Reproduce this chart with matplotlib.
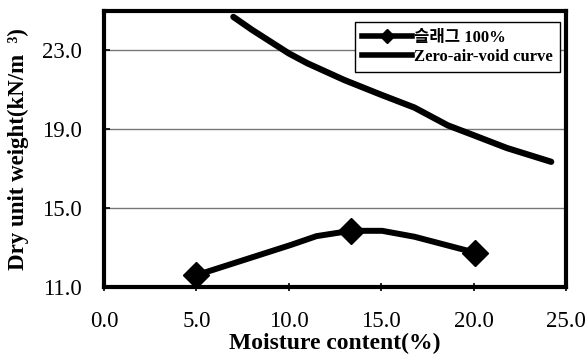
import matplotlib
matplotlib.use("Agg")
import matplotlib.pyplot as plt
from matplotlib.lines import Line2D

# Data
slag_marker_x = [5.0, 13.35, 20.05]
slag_marker_y = [11.6, 13.85, 12.75]
slag_line_x = [5.0, 10.1, 11.5, 13.35, 15.05, 16.8, 20.05]
slag_line_y = [11.6, 13.13, 13.58, 13.85, 13.85, 13.55, 12.75]
zav_x = [7.0, 8.0, 9.0, 10.0, 11.0, 13.0, 15.0, 16.8, 18.6, 20.0, 21.8, 24.2]
zav_y = [24.7, 24.05, 23.45, 22.85, 22.35, 21.5, 20.75, 20.1, 19.2, 18.7, 18.05, 17.35]
x_ticks = [0.0, 5.0, 10.0, 15.0, 20.0, 25.0]
y_ticks = [11.0, 15.0, 19.0, 23.0]
legend_labels = ["슬래그 100%", "Zero-air-void curve"]
x_title = "Moisture content(%)"
y_title = "Dry unit weight(kN/m  ³)"

serif = ['Liberation Serif', 'Noto Sans CJK KR']
plt.rcParams['font.family'] = serif

W, H, DPI = 585, 358, 100
fig = plt.figure(figsize=(W / DPI, H / DPI), dpi=DPI)
ax = fig.add_axes([0.1778, 0.1983, 0.9675 - 0.1778, 0.9693 - 0.1983])

ax.plot(slag_line_x, slag_line_y, color='black', lw=4.3, solid_joinstyle='round', zorder=3)
ax.plot(slag_marker_x, slag_marker_y, 'D', color='black', ms=13, zorder=4)
ax.plot(zav_x, zav_y, color='black', lw=4.5, solid_capstyle='round', solid_joinstyle='round', zorder=3)

ax.set_xlim(0, 25)
ax.set_ylim(11, 25)
ax.set_xticks(x_ticks)
ax.set_xticklabels([f"{v:.1f}" for v in x_ticks])
ax.set_yticks(y_ticks)
ax.set_yticklabels([f"{v:.1f}" for v in y_ticks])
ax.yaxis.grid(True, color='#777777', lw=1.0)
ax.set_axisbelow(True)
for s in ax.spines.values():
    s.set_linewidth(3)
xpad, ypad = 12.0, 15.0
ax.tick_params(axis='x', direction='inout', length=6, width=1.2, labelsize=16.5, pad=xpad)
ax.tick_params(axis='y', direction='in', length=4, width=1.2, labelsize=16.5, pad=ypad)

# axis titles as figure text at fixed pixel centres (top-left origin)
fig.text(335 / W, 1 - 343 / H, x_title, fontsize=17, fontweight='bold',
         ha='center', va='center')
fig.text(18 / W, 1 - 149 / H, y_title, fontsize=16.5, fontweight='bold',
         ha='center', va='center', rotation=90)

handles = [
    Line2D([], [], color='black', lw=4, marker='D', ms=7),
    Line2D([], [], color='black', lw=4, marker='_', ms=6),
]
leg = ax.legend(handles, legend_labels, loc='upper right', bbox_to_anchor=(0.987, 0.960),
                frameon=True, fancybox=False, edgecolor='black', framealpha=1,
                handlelength=3.0, handletextpad=0.1, borderpad=0.45, labelspacing=0.2,
                borderaxespad=0.0,
                prop={'family': serif, 'weight': 'bold', 'size': 12})
leg.get_frame().set_linewidth(1.0)

# Fine-tune tick label padding against measured pixel targets
fig.canvas.draw()
r = fig.canvas.get_renderer()
px2pt = 72.0 / DPI
bb = ax.get_yticklabels()[-1].get_window_extent(r)
ypad += (bb.x1 - 82) * px2pt
bb = ax.get_xticklabels()[0].get_window_extent(r)
xpad += (311 - (H - bb.y1)) * px2pt
ax.tick_params(axis='x', pad=xpad)
ax.tick_params(axis='y', pad=ypad)

fig.savefig("out.png", dpi=DPI)
